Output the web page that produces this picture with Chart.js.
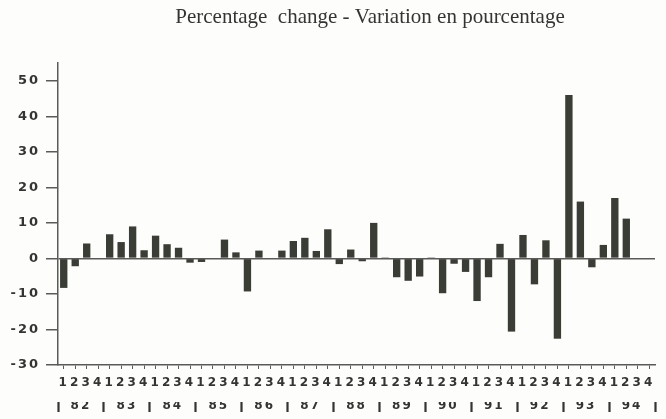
<!DOCTYPE html>
<html>
<head>
<meta charset="utf-8">
<script src="https://cdn.jsdelivr.net/npm/chart.js@4"></script>
<style>
  html, body { margin: 0; padding: 0; background: #fdfdfb; }
  #wrap { width: 666px; height: 419px; position: relative; }
</style>
</head>
<body>
<div id="wrap"><canvas id="chart_pct_change"></canvas></div>
<script>
// Quarterly percentage change, 1982 Q1 - 1994 Q4
const years = ["82", "83", "84", "85", "86", "87", "88", "89", "90", "91", "92", "93", "94"];
const quarters = ["1", "2", "3", "4"];
const values = [
    -8.3, -2.2, 4.2, 0,      // 82
    6.8, 4.6, 9.0, 2.3,      // 83
    6.4, 4.0, 3.0, -1.2,     // 84
    -1.0, 0, 5.3, 1.7,       // 85
    -9.3, 2.2, 0, 2.2,       // 86
    4.9, 5.8, 2.1, 8.2,      // 87
    -1.6, 2.5, -0.8, 10.0,   // 88
    0.3, -5.3, -6.3, -5.1,   // 89
    0.3, -9.8, -1.5, -3.8,   // 90
    -12.0, -5.3, 4.1, -20.6, // 91
    6.6, -7.3, 5.1, -22.6,   // 92
    46.0, 16.0, -2.5, 3.8,   // 93
    17.0, 11.2, null, null   // 94
];
const yTicks = [-30, -20, -10, 0, 10, 20, 30, 40, 50];
const title = "Percentage  change - Variation en pourcentage";

const labels = [];
years.forEach(() => quarters.forEach(q => labels.push(q)));

const ink = "#3a3c36";
const axisCol = "#5a5a58";
const textCol = "#343432";
const tickFont = { family: "'DejaVu Sans'", weight: "bold", size: 12 };

// titre + espacement des lettres
const titlePlugin = {
    id: "titleText",
    beforeDraw(chart) {
        chart.ctx.letterSpacing = "2px";
    },
    afterDraw(chart) {
        const ctx = chart.ctx;
        ctx.save();
        ctx.letterSpacing = "0px";
        ctx.font = "21px 'Liberation Serif'";
        ctx.fillStyle = textCol;
        ctx.textAlign = "center";
        ctx.textBaseline = "middle";
        ctx.fillText(title, 370, 17);
        ctx.restore();
    }
};

const ctx = document.getElementById("chart_pct_change").getContext("2d");
new Chart(ctx, {
    type: "bar",
    data: {
        labels: labels,
        datasets: [{
            data: values,
            backgroundColor: ink,
            borderWidth: 0,
            categoryPercentage: 1,
            barPercentage: 0.64
        }]
    },
    options: {
        responsive: true,
        maintainAspectRatio: false,
        animation: false,
        layout: { padding: { top: 63, right: 11, bottom: 3, left: 0 } },
        plugins: {
            legend: { display: false },
            title: { display: false },
            tooltip: { enabled: false }
        },
        scales: {
            x: {
                type: "category",
                offset: true,
                afterFit: s => { s.height = 37; },
                border: { display: true, color: axisCol, width: 1.5 },
                grid: { drawOnChartArea: false, drawTicks: true, tickLength: 4, tickColor: axisCol, offset: false },
                ticks: { autoSkip: false, maxRotation: 0, padding: 7, color: textCol, font: tickFont }
            },
            x2: {
                type: "category",
                position: "bottom",
                labels: years,
                offset: true,
                afterFit: s => { s.height = 14; },
                border: { display: false },
                grid: { drawOnChartArea: false, drawTicks: true, tickLength: 10, tickColor: textCol, tickWidth: 2.2, offset: true },
                ticks: { autoSkip: false, maxRotation: 0, padding: -13, color: textCol, font: tickFont }
            },
            y: {
                min: -30,
                max: 55,
                afterFit: s => { s.width = 58; },
                afterBuildTicks: s => { s.ticks = yTicks.map(v => ({ value: v })); },
                border: { display: true, color: axisCol, width: 1.5 },
                grid: {
                    drawOnChartArea: true, drawTicks: true, tickLength: 12, tickColor: axisCol,
                    color: c => (c.tick && c.tick.value === 0 ? axisCol : "rgba(0,0,0,0)"),
                    lineWidth: 1.5
                },
                ticks: { padding: 6, color: textCol, font: { family: "'DejaVu Sans'", weight: "bold", size: 13 } }
            }
        }
    },
    plugins: [titlePlugin]
});
</script>
</body>
</html>
